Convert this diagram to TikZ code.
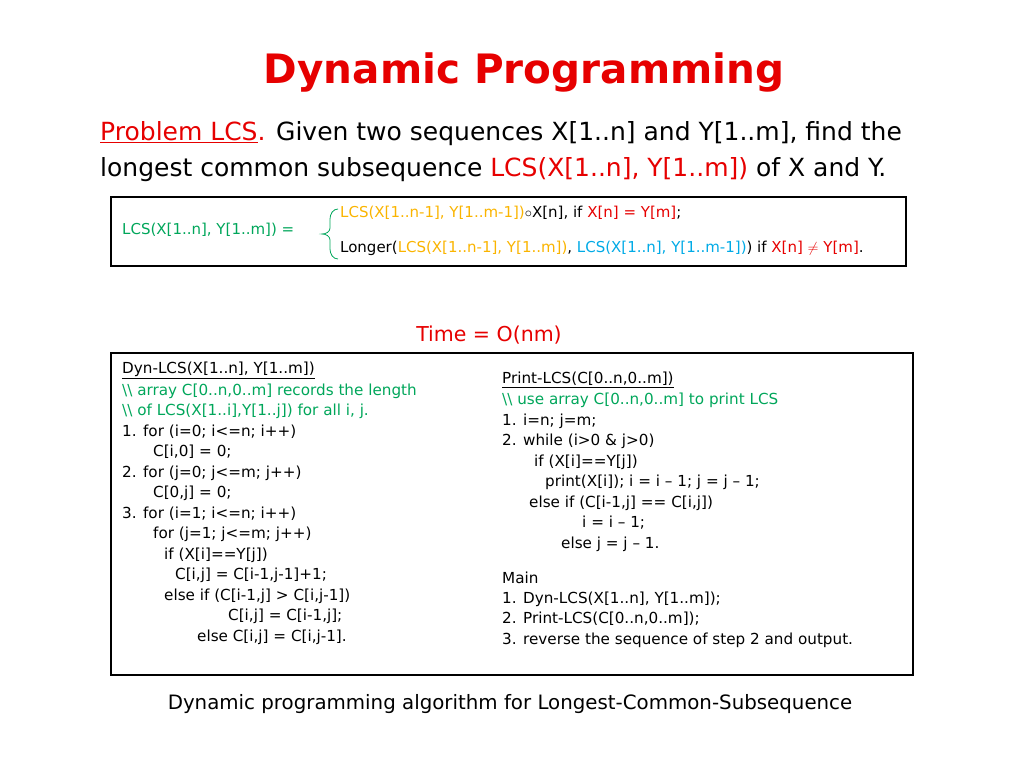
\documentclass[tikz,border=0pt]{standalone}
\usepackage{fontspec}
\setmainfont{DejaVu Sans}
\usetikzlibrary{positioning}
\definecolor{lcsgreen}{RGB}{0,166,90}
\definecolor{lcsorange}{RGB}{250,180,0}
\definecolor{lcsblue}{RGB}{0,170,230}
\definecolor{lcsred}{RGB}{230,0,0}
\newcommand{\ul}[1]{\underline{#1}}

\begin{document}
\begin{tikzpicture}[
            x = 1pt, y = -1pt,
            every node/.style = {inner sep = 0pt, anchor = west},
            code/.style = {font = \fontsize{15.2}{17}\selectfont},
            formula/.style = {font = \fontsize{15}{17}\selectfont},
            head/.style = {font = \fontsize{25}{29}\selectfont},
            frame/.style = {draw, line width = 1.5pt}
            ]
        \useasboundingbox (0,0) rectangle (1024,768);

        % title and problem
        \node[anchor=center, font=\fontsize{40.5}{46}\selectfont\bfseries, text=lcsred] (title) at (524,72) {Dynamic Programming};
        \node[head] (prob1) at (100,134) {\textcolor{lcsred}{\ul{Problem LCS}.} Given two sequences X[1..n] and Y[1..m], find the};
        \node[head] (prob2) at (100,170) {longest common subsequence \textcolor{lcsred}{LCS(X[1..n], Y[1..m])} of X and Y.};

        % recurrence
        \draw[frame] (111,197) rectangle (906,266);
        \node[formula, text=lcsgreen] (lhs) at (122,230) {LCS(X[1..n], Y[1..m]) =};
        \node[formula] (case1) at (340,213) {\textcolor{lcsorange}{LCS(X[1..n-1], Y[1..m-1])}$\circ$X[n], if \textcolor{lcsred}{X[n] = Y[m]};};
        \node[formula] (case2) at (340,248) {Longer(\textcolor{lcsorange}{LCS(X[1..n-1], Y[1..m])}, \textcolor{lcsblue}{LCS(X[1..n], Y[1..m-1])}) if \textcolor{lcsred}{X[n] $\neq$ Y[m]}.};
        \draw[lcsgreen, thick] (case1.west) ++(-2,-4) coordinate (b1) to[out=180,in=90] ++(-8,10) -- ++(0,9)
            to[out=-90,in=0] ++(-8,6) coordinate (bm) to[out=0,in=90] ++(8,6) -- ++(0,9)
            to[out=-90,in=180] ++(8,10) coordinate (b2);

        \node[anchor=center, font=\fontsize{20.5}{24}\selectfont, text=lcsred] (time) at (489,335) {Time = O(nm)};

        % algorithms
        \draw[frame] (111,353) rectangle (913,675);
        \foreach \x/\y/\t [count=\i] in {
            122/370/{\ul{Dyn-LCS(X[1..n], Y[1..m])}},
            122/391/{\textcolor{lcsgreen}{\textbackslash\textbackslash{} array C[0..n,0..m] records the length}},
            122/411/{\textcolor{lcsgreen}{\textbackslash\textbackslash{} of LCS(X[1..i],Y[1..j]) for all i, j.}},
            122/432/{1. for (i=0; i<=n; i++)},
            153/452/{C[i,0] = 0;},
            122/473/{2. for (j=0; j<=m; j++)},
            153/493/{C[0,j] = 0;},
            122/514/{3. for (i=1; i<=n; i++)},
            153/534/{for (j=1; j<=m; j++)},
            164/555/{if (X[i]==Y[j])},
            175/575/{C[i,j] = C[i-1,j-1]+1;},
            164/596/{else if (C[i-1,j] > C[i,j-1])},
            228/616/{C[i,j] = C[i-1,j];},
            197/637/{else C[i,j] = C[i,j-1].}}
            \node[code] (dyn\i) at (\x,\y) {\t};
        \foreach \x/\y/\t [count=\i] in {
            502/380/{\ul{Print-LCS(C[0..n,0..m])}},
            502/400/{\textcolor{lcsgreen}{\textbackslash\textbackslash{} use array C[0..n,0..m] to print LCS}},
            502/421/{1. i=n; j=m;},
            502/441/{2. while (i>0 \& j>0)},
            534/462/{if (X[i]==Y[j])},
            545/482/{print(X[i]); i = i – 1; j = j – 1;},
            529/503/{else if (C[i-1,j] == C[i,j])},
            582/523/{i = i – 1;},
            561/544/{else j = j – 1.},
            502/578/{Main},
            502/599/{1. Dyn-LCS(X[1..n], Y[1..m]);},
            502/619/{2. Print-LCS(C[0..n,0..m]);},
            502/640/{3. reverse the sequence of step 2 and output.}}
            \node[code] (prn\i) at (\x,\y) {\t};

        \node[anchor=center, font=\fontsize{19.8}{23}\selectfont] (caption) at (510,704) {Dynamic programming algorithm for Longest-Common-Subsequence};
\end{tikzpicture}
\end{document}
